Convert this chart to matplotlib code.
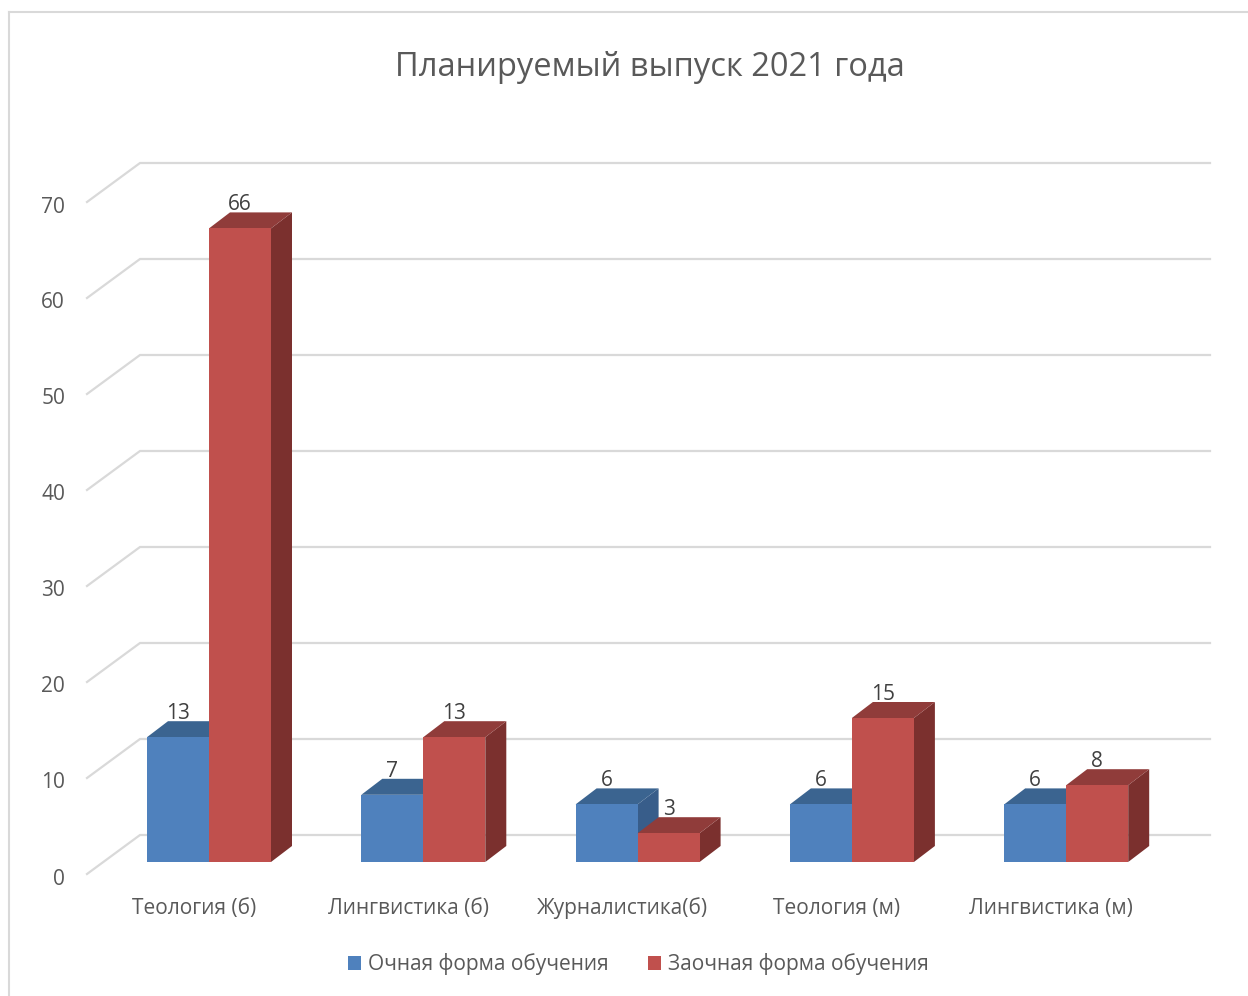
import matplotlib
matplotlib.use('Agg')
import matplotlib.pyplot as plt
from matplotlib.patches import Polygon, Rectangle
from matplotlib.lines import Line2D

plt.rcParams['font.family'] = ['Open Sans', 'DejaVu Sans']

# data
categories = ['Теология (б)', 'Лингвистика (б)', 'Журналистика(б)', 'Теология (м)', 'Лингвистика (м)']
full_time = [13, 7, 6, 6, 6]
part_time = [66, 13, 3, 15, 8]
series_names = ['Очная форма обучения', 'Заочная форма обучения']
yticks = [0, 10, 20, 30, 40, 50, 60, 70]
title = 'Планируемый выпуск 2021 года'

# colours (front, top, side)
blue = ('#4f81bd', '#3b6490', '#385d8a')
red = ('#c0504d', '#903c3a', '#7b302e')
grid_c = '#d9d9d9'
txt_c = '#595959'

W, H = 1248, 996
fig = plt.figure(figsize=(W / 100, H / 100), dpi=100)
ax = fig.add_axes([0, 0, 1, 1])

# pixel scale of the bar plane
px_x = 214.3        # px per category
px_y = 9.6          # px per unit
x0_px, y0_px = 209, H - 862
ax.set_xlim(-x0_px / px_x, (W - x0_px) / px_x)
ax.set_ylim(-y0_px / px_y, (H - y0_px) / px_y)
ax.axis('off')

bw = 62 / px_x                       # bar width
ddx, ddy = 21 / px_x, 16 / px_y      # bar depth offset
fx, fy = (87 - x0_px) / px_x, -12 / px_y   # floor front edge
bx, by = (140 - x0_px) / px_x, 27 / px_y   # back wall
rx = (1210 - x0_px) / px_x

# gridlines: floor edge diagonal + back wall
for v in yticks:
    ax.plot([fx, bx, rx], [v + fy, v + by, v + by], color=grid_c, lw=1.6,
            solid_joinstyle='miter', zorder=1)
    ax.text(fx - 22 / px_x, v + fy - 2.5 / px_y, str(v), ha='right', va='center_baseline',
            fontsize=15, color=txt_c)


def bar3d(x, h, cols):
    front, top, side = cols
    ax.add_patch(Polygon([(x + bw, 0), (x + bw + ddx, ddy), (x + bw + ddx, h + ddy), (x + bw, h)],
                         closed=True, fc=side, ec='none', zorder=3))
    ax.add_patch(Polygon([(x, h), (x + ddx, h + ddy), (x + bw + ddx, h + ddy), (x + bw, h)],
                         closed=True, fc=top, ec='none', zorder=3))
    ax.add_patch(Rectangle((x, 0), bw, h, fc=front, ec='none', zorder=3))
    ax.text(x + bw / 2, h + ddy + 2 / px_y, str(h), ha='center', va='baseline',
            fontsize=15, color='#404040', zorder=4)


for i in range(len(categories)):
    bar3d(i - bw, full_time[i], blue)
    bar3d(i, part_time[i], red)
    ax.text(i - 15 / px_x, fy - 32 / px_y, categories[i], ha='center', va='center_baseline',
            fontsize=15, color=txt_c)

fig.text(650 / W, 1 - 64 / H, title, ha='center', va='center_baseline', fontsize=23.5, color=txt_c)

# legend
handles = [Rectangle((0, 0), 1, 1, fc=blue[0]), Rectangle((0, 0), 1, 1, fc=red[0])]
leg = fig.legend(handles, series_names, loc='center', bbox_to_anchor=(638 / W, 1 - 964 / H),
                 ncol=2, frameon=False, fontsize=15, handlelength=0.65, handleheight=0.65,
                 handletextpad=0.3, columnspacing=1.9, labelcolor=txt_c)

# chart border
fig.add_artist(Line2D([9 / W, 9 / W], [0, 1 - 12 / H], color=grid_c, lw=1.5))
fig.add_artist(Line2D([9 / W, 1], [1 - 12 / H, 1 - 12 / H], color=grid_c, lw=1.5))

fig.savefig('out.png', dpi=100, facecolor='white')
